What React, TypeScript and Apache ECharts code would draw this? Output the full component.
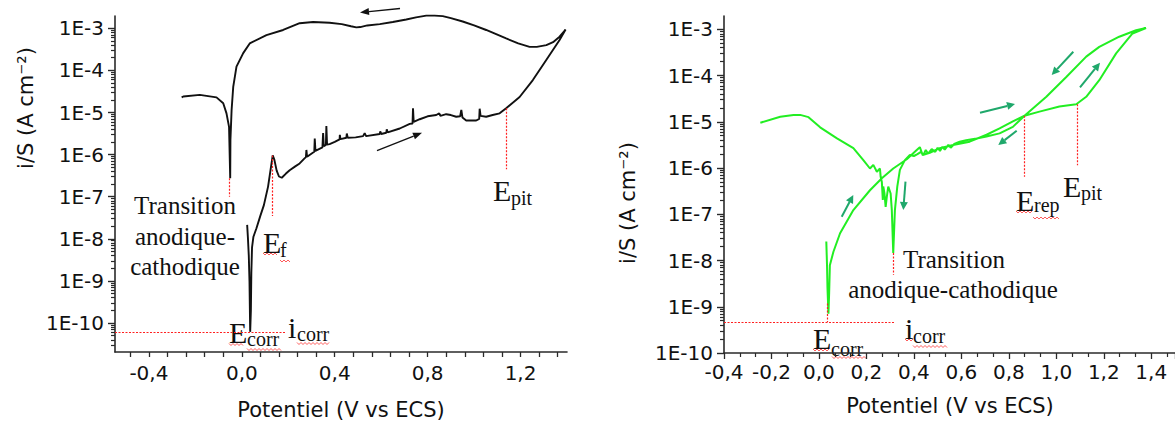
import React, { useEffect, useRef } from 'react';
import * as echarts from 'echarts';

// ---------- Data ----------
// Left panel (black): potential E (V vs ECS) and current density i/S (A cm-2), in scan order
const leftE = [0.023, 0.026, 0.030, 0.033, 0.036, 0.039, 0.041, 0.044, 0.050, 0.063, 0.080, 0.095, 0.113, 0.124, 0.133, 0.140, 0.150, 0.160, 0.172, 0.190, 0.206, 0.230, 0.249, 0.270, 0.276, 0.278, 0.281, 0.307, 0.312, 0.314, 0.317, 0.347, 0.350, 0.353, 0.362, 0.364, 0.367, 0.378, 0.400, 0.421, 0.422, 0.425, 0.450, 0.452, 0.456, 0.490, 0.522, 0.529, 0.535, 0.594, 0.596, 0.600, 0.622, 0.624, 0.628, 0.680, 0.723, 0.735, 0.737, 0.740, 0.766, 0.800, 0.837, 0.850, 0.855, 0.880, 0.900, 0.923, 0.940, 0.945, 0.950, 0.966, 1.009, 1.022, 1.024, 1.028, 1.052, 1.080, 1.110, 1.138, 1.196, 1.253, 1.310, 1.368, 1.394,
  1.368, 1.340, 1.311, 1.270, 1.239, 1.190, 1.138, 1.095, 1.052, 1.000, 0.951, 0.900, 0.865, 0.830, 0.794, 0.750, 0.708, 0.650, 0.594, 0.540, 0.510, 0.493, 0.470, 0.430, 0.378, 0.307, 0.249, 0.178, 0.106, 0.034, 0.006, -0.023, -0.037, -0.044, -0.049, -0.050, -0.055, -0.066, -0.080, -0.109, -0.181, -0.252, -0.259];
const leftI = [2.14e-8, 1.12e-8, 3.98e-9, 1.0e-9, 6.17e-11, 2.0e-10, 1.58e-9, 6.3e-9, 1.12e-8, 1.78e-8, 3.55e-8, 6.3e-8, 1.74e-7, 4.47e-7, 9.55e-7, 7.59e-7, 4.17e-7, 3.02e-7, 2.82e-7, 3.55e-7, 4.27e-7, 5.25e-7, 6.17e-7, 8.13e-7, 8.71e-7, 1.29e-6, 8.91e-7, 1.12e-6, 1.17e-6, 2.40e-6, 1.23e-6, 1.48e-6, 3.24e-6, 1.58e-6, 1.70e-6, 4.79e-6, 1.74e-6, 1.78e-6, 2.0e-6, 2.29e-6, 2.95e-6, 2.34e-6, 2.51e-6, 3.16e-6, 2.51e-6, 2.57e-6, 2.75e-6, 3.24e-6, 2.75e-6, 3.09e-6, 3.55e-6, 3.09e-6, 3.31e-6, 3.98e-6, 3.39e-6, 4.17e-6, 5.37e-6, 5.50e-6, 1.26e-5, 6.03e-6, 6.92e-6, 8.13e-6, 8.71e-6, 9.55e-6, 8.32e-6, 9.12e-6, 8.71e-6, 7.94e-6, 8.13e-6, 1.15e-5, 7.59e-6, 6.46e-6, 6.46e-6, 7.08e-6, 1.23e-5, 8.32e-6, 7.94e-6, 8.71e-6, 9.55e-6, 1.26e-5, 2.34e-5, 5.89e-5, 1.74e-4, 5.25e-4, 9.33e-4,
  6.31e-4, 4.68e-4, 3.98e-4, 3.63e-4, 3.63e-4, 4.37e-4, 5.75e-4, 7.24e-4, 9.12e-4, 1.17e-3, 1.45e-3, 1.74e-3, 1.95e-3, 2.0e-3, 2.0e-3, 1.82e-3, 1.62e-3, 1.41e-3, 1.26e-3, 1.17e-3, 1.07e-3, 1.05e-3, 1.12e-3, 1.26e-3, 1.35e-3, 1.41e-3, 1.32e-3, 9.12e-4, 6.92e-4, 4.37e-4, 2.57e-4, 1.23e-4, 4.07e-5, 1.15e-5, 2.24e-6, 2.75e-7, 4.57e-6, 9.55e-6, 1.66e-5, 2.29e-5, 2.63e-5, 2.40e-5, 2.29e-5];

// Right panel (green)
const rightE = [0.031, 0.034, 0.036, 0.040, 0.043, 0.046, 0.061, 0.089, 0.145, 0.215, 0.265, 0.313, 0.370, 0.412, 0.425, 0.437, 0.467, 0.509, 0.565, 0.635, 0.706, 0.761, 0.817, 0.866, 0.929, 1.013, 1.084, 1.126, 1.181, 1.252, 1.321, 1.378,
  1.336, 1.265, 1.181, 1.126, 1.042, 0.958, 0.866, 0.817, 0.761, 0.706, 0.664, 0.620, 0.593, 0.570, 0.555, 0.545, 0.530, 0.520, 0.510, 0.500, 0.490, 0.475, 0.460, 0.450, 0.440, 0.430, 0.415, 0.400, 0.383, 0.362, 0.341, 0.330, 0.320, 0.313, 0.307, 0.302, 0.292, 0.286, 0.281, 0.276, 0.271, 0.269, 0.265, 0.260, 0.257, 0.244, 0.229, 0.215, 0.187, 0.145, 0.076, 0.005, -0.044, -0.079, -0.107, -0.163, -0.247];
const rightI = [2.57e-8, 7.94e-9, 2.51e-9, 7.08e-10, 2.0e-9, 7.94e-9, 1.55e-8, 3.89e-8, 1.23e-7, 3.31e-7, 6.03e-7, 9.77e-7, 1.55e-6, 2.45e-6, 2.82e-6, 1.91e-6, 2.14e-6, 2.69e-6, 3.16e-6, 3.72e-6, 5.25e-6, 7.24e-6, 1.02e-5, 1.35e-5, 1.66e-5, 2.14e-5, 2.40e-5, 3.47e-5, 7.94e-5, 3.02e-4, 8.13e-4, 1.07e-3,
  9.55e-4, 6.92e-4, 4.17e-4, 2.57e-4, 9.33e-5, 3.47e-5, 1.35e-5, 7.76e-6, 5.62e-6, 4.79e-6, 4.37e-6, 3.98e-6, 3.72e-6, 3.31e-6, 2.75e-6, 3.16e-6, 2.51e-6, 2.88e-6, 2.34e-6, 2.75e-6, 2.24e-6, 2.57e-6, 2.04e-6, 2.45e-6, 1.91e-6, 2.24e-6, 2.0e-6, 1.82e-6, 1.91e-6, 1.48e-6, 9.12e-7, 3.98e-7, 1.23e-7, 1.45e-8, 1.23e-7, 2.82e-7, 3.98e-7, 2.40e-7, 1.45e-7, 2.82e-7, 3.98e-7, 2.04e-7, 5.01e-7, 6.46e-7, 9.77e-7, 8.32e-7, 1.17e-6, 9.77e-7, 1.48e-6, 2.69e-6, 4.37e-6, 7.59e-6, 1.26e-5, 1.41e-5, 1.41e-5, 1.29e-5, 9.55e-6];

// Red dotted reference lines: [E, i top, i bottom]
const leftMarkers = [[-0.052, 2.75e-7, 1.0e-7], [0.133, 9.55e-7, 3.5e-8], [1.138, 1.26e-5, 4.5e-7]];
const leftIcorr = [6.17e-11, 0.19]; // [i, E end]
const rightMarkers = [[0.034, 1.17e-9, 4.7e-10], [0.313, 1.45e-8, 4.9e-9], [0.866, 1.35e-5, 6.5e-7], [1.089, 2.4e-5, 1.15e-6]];
const rightIcorr = [4.7e-10, 0.32];

// Axis ticks and labels
const decadeTicks = [1e-10, 1e-9, 1e-8, 1e-7, 1e-6, 1e-5, 1e-4, 1e-3];
const leftXLabels = [-0.4, 0, 0.4, 0.8, 1.2];
const leftXTicks = [-0.48, -0.4, -0.32, -0.24, -0.16, -0.08, 0, 0.08, 0.16, 0.24, 0.32, 0.4, 0.48, 0.56, 0.64, 0.72, 0.8, 0.88, 0.96, 1.04, 1.12, 1.2, 1.28, 1.36];

const SERIF = '"Liberation Serif", "Times New Roman", serif';
const SANS = '"DejaVu Sans", sans-serif';
const AXIS_COLOR = '#2a2a2a';

function logMinorTicks(lo: number, hi: number) {
  const out: number[] = [];
  for (let e = -12; e <= -2; e++) {
    for (let k = 2; k <= 9; k++) {
      const v = k * Math.pow(10, e);
      if (v > lo && v < hi) out.push(v);
    }
  }
  return out;
}

const fmtX = (v: number) => (Math.abs(v) < 1e-9 ? '0,0' : v.toFixed(1).replace('.', ','));
const fmtY = (v: number) => '1E' + Math.round(Math.log10(v));

function txt(x: number, y: number, text: string, size: number, align = 'left', family = SERIF, rotation = 0) {
  return {
    type: 'text', x, y, rotation, silent: true,
    style: {
      text, fontSize: size, fontFamily: family, fill: '#111',
      textAlign: align, textVerticalAlign: 'middle', align, verticalAlign: 'middle',
    },
  };
}

function squiggle(x1: number, x2: number, y: number) {
  const pts: number[][] = [];
  let up = true;
  for (let x = x1; x <= x2; x += 2) {
    pts.push([x, up ? y - 1 : y + 1]);
    up = !up;
  }
  return { type: 'polyline', silent: true, shape: { points: pts }, style: { stroke: '#ff4a4a', lineWidth: 0.9, fill: null } };
}

function arrow(x1: number, y1: number, x2: number, y2: number, color: string, lw: number, hl: number, hw: number) {
  const dx = x2 - x1, dy = y2 - y1;
  const L = Math.hypot(dx, dy);
  const ux = dx / L, uy = dy / L;
  const bx = x2 - ux * hl, by = y2 - uy * hl;
  const px = -uy, py = ux;
  return [
    { type: 'line', silent: true, shape: { x1, y1, x2: bx, y2: by }, style: { stroke: color, lineWidth: lw } },
    { type: 'polygon', silent: true, shape: { points: [[x2, y2], [bx + px * hw, by + py * hw], [bx - px * hw, by - py * hw]] }, style: { fill: color } },
  ];
}

const L_YMIN = 2.05e-11, L_YMAX = 1.96e-3;
const R_YMIN = 1e-10, R_YMAX = 1.94e-3;
const L_XMIN = -0.546, L_XMAX = 1.4;
const R_XMIN = -0.4, R_XMAX = 1.5;

function markLines(markers: number[][], icorr: number[], xmin: number) {
  const data: any[] = markers.map((m) => [{ coord: [m[0], m[1]] }, { coord: [m[0], m[2]] }]);
  data.push([{ coord: [xmin, icorr[0]] }, { coord: [icorr[1], icorr[0]] }]);
  return {
    silent: true, symbol: ['none', 'none'], label: { show: false }, animation: false,
    lineStyle: { color: '#ff2020', type: [2, 1.5], width: 1.2, opacity: 1 },
    emphasis: { disabled: true },
    data,
  };
}

function yAxes(gridIndex: number, min: number, max: number) {
  return [
    {
      type: 'log', logBase: 10, gridIndex, position: 'left', min, max,
      axisLine: { show: true, onZero: false, lineStyle: { color: AXIS_COLOR, width: 1.6 } },
      axisTick: { show: true, customValues: decadeTicks, length: 7, lineStyle: { color: AXIS_COLOR, width: 1.4 } },
      axisLabel: { customValues: decadeTicks, formatter: fmtY, fontFamily: SANS, fontSize: 20, color: '#111', margin: 11 },
      splitLine: { show: false }, minorTick: { show: false }, minorSplitLine: { show: false },
    },
    {
      type: 'log', logBase: 10, gridIndex, position: 'left', min, max,
      axisLine: { show: false, onZero: false },
      axisTick: { show: true, customValues: logMinorTicks(min, max), length: 4, lineStyle: { color: AXIS_COLOR, width: 1.2 } },
      axisLabel: { show: false },
      splitLine: { show: false },
    },
  ];
}

export default function App() {
  const ref = useRef<HTMLDivElement>(null);
  useEffect(() => {
    if (!ref.current) return;
    const chart = echarts.init(ref.current, null, { renderer: 'svg' });

    const graphics: any[] = [
      // axis titles
      txt(26, 108, 'i/S (A cm\u207B\u00B2)', 21, 'center', SANS, Math.PI / 2),
      txt(628, 203, 'i/S (A cm\u207B\u00B2)', 21, 'center', SANS, Math.PI / 2),
      txt(341, 410, 'Potentiel (V vs ECS)', 21, 'center', SANS),
      txt(950, 406, 'Potentiel (V vs ECS)', 21, 'center', SANS),
      // left annotations
      txt(185, 205, 'Transition', 25, 'center'),
      txt(185, 236.5, 'anodique-', 25, 'center'),
      txt(185, 266.5, 'cathodique', 25, 'center'),
      txt(263, 242, 'E', 30), txt(280, 250, 'f', 20),
      txt(229, 332, 'E', 30), txt(247, 339, 'corr', 20),
      txt(288, 327, 'i', 30), txt(297, 334, 'corr', 20),
      txt(493, 190, 'E', 30), txt(511, 198, 'pit', 20),
      // right annotations
      txt(903, 259.5, 'Transition', 25),
      txt(953, 289.5, 'anodique-cathodique', 25, 'center'),
      txt(813, 338, 'E', 30), txt(831, 349, 'corr', 20),
      txt(905, 328, 'i', 30), txt(913, 336, 'corr', 20),
      txt(1016, 200, 'E', 30), txt(1034, 205, 'rep', 20),
      txt(1063, 186, 'E', 30), txt(1081, 192.5, 'pit', 20),
      // spell-check squiggles
      squiggle(229, 244, 344.5), squiggle(247, 281, 349.5), squiggle(297, 330, 343.5),
      squiggle(263, 278, 254), squiggle(280, 291, 261),
      squiggle(813, 830, 350), squiggle(832, 866, 357.5), squiggle(905, 913, 340), squiggle(913, 947, 346.5),
      squiggle(1016, 1032, 212), squiggle(1033, 1060, 218),
      // arrows
      ...arrow(400, 8.5, 360, 12.5, '#111', 1.3, 9, 3.5),
      ...arrow(377, 150.7, 422, 132.7, '#111', 1.3, 9, 3.5),
      ...arrow(841.7, 216.7, 853.3, 195, '#1fa86b', 2, 8, 4),
      ...arrow(905.5, 181.7, 903.3, 210, '#1fa86b', 2, 8, 4),
      ...arrow(980, 112.7, 1015, 104, '#1fa86b', 2, 8, 4),
      ...arrow(1016.7, 130.7, 998.3, 145, '#1fa86b', 2, 8, 4),
      ...arrow(1073.3, 51.7, 1051.7, 75, '#1fa86b', 2, 8, 4),
      ...arrow(1080, 87.3, 1100, 62.7, '#1fa86b', 2, 8, 4),
    ];

    const option: any = {
      animation: false,
      grid: [
        { left: 115, top: 16, width: 452, height: 336 },
        { left: 724, top: 16, width: 453, height: 337 },
      ],
      xAxis: [
        {
          type: 'value', gridIndex: 0, min: L_XMIN, max: L_XMAX,
          axisLine: { show: true, onZero: false, lineStyle: { color: AXIS_COLOR, width: 1.6 } },
          axisTick: { show: true, customValues: leftXTicks, length: 5, lineStyle: { color: AXIS_COLOR, width: 1.3 } },
          axisLabel: { customValues: leftXLabels, formatter: fmtX, fontFamily: SANS, fontSize: 20, color: '#111', margin: 11 },
          splitLine: { show: false },
        },
        {
          type: 'value', gridIndex: 1, min: R_XMIN, max: R_XMAX, interval: 0.2,
          axisLine: { show: true, onZero: false, lineStyle: { color: AXIS_COLOR, width: 1.6 } },
          axisTick: { show: true, length: 6, lineStyle: { color: AXIS_COLOR, width: 1.3 } },
          minorTick: { show: true, splitNumber: 3, length: 4, lineStyle: { color: AXIS_COLOR, width: 1.2 } },
          axisLabel: { formatter: fmtX, fontFamily: SANS, fontSize: 20, color: '#111', margin: 9, showMaxLabel: false, showMinLabel: true },
          splitLine: { show: false },
        },
      ],
      yAxis: [...yAxes(0, L_YMIN, L_YMAX), ...yAxes(1, R_YMIN, R_YMAX)],
      series: [
        {
          type: 'line', xAxisIndex: 0, yAxisIndex: 0, clip: false,
          data: leftE.map((e, k) => [e, leftI[k]]),
          showSymbol: false, symbol: 'none',
          lineStyle: { color: '#111', width: 1.9 },
          emphasis: { disabled: true },
          markLine: markLines(leftMarkers, leftIcorr, L_XMIN),
        },
        {
          type: 'line', xAxisIndex: 1, yAxisIndex: 2, clip: false,
          data: rightE.map((e, k) => [e, rightI[k]]),
          showSymbol: false, symbol: 'none',
          lineStyle: { color: '#22ee22', width: 2 },
          emphasis: { disabled: true },
          markLine: markLines(rightMarkers, rightIcorr, R_XMIN),
        },
      ],
      graphic: { elements: graphics },
    };
    chart.setOption(option);
    return () => chart.dispose();
  }, []);

  return <div ref={ref} style={{ position: 'absolute', left: 0, top: 0, width: 1175, height: 425, background: '#fff' }} />;
}
